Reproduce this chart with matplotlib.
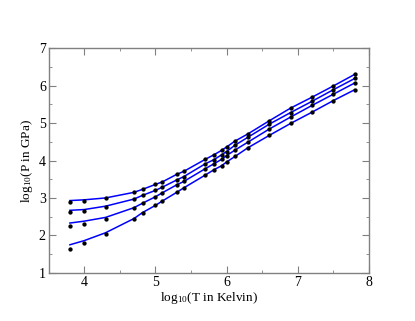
import matplotlib
matplotlib.use("Agg")
import matplotlib.pyplot as plt
from matplotlib.ticker import MultipleLocator

plt.rcParams['font.family'] = ['Liberation Serif', 'DejaVu Serif']
plt.rcParams['mathtext.fontset'] = 'custom'
plt.rcParams['mathtext.rm'] = 'Liberation Serif'
plt.rcParams['mathtext.it'] = 'Liberation Serif:italic'

# log10(T) grid shared by all isochores
logT = [3.8, 4.0, 4.3, 4.7, 4.82, 5.0, 5.1, 5.3, 5.4, 5.7,
        5.82, 5.93, 6.0, 6.12, 6.3, 6.6, 6.9, 7.2, 7.5, 7.8]

# simulation points (dots)
p_pts_1 = [2.90, 2.93, 2.99, 3.15, 3.23, 3.36, 3.43, 3.63, 3.71, 4.03,
           4.15, 4.27, 4.36, 4.52, 4.71, 5.06, 5.40, 5.69, 5.99, 6.30]
p_pts_2 = [2.63, 2.66, 2.77, 2.97, 3.07, 3.20, 3.29, 3.48, 3.57, 3.91,
           4.02, 4.15, 4.24, 4.41, 4.62, 4.97, 5.28, 5.58, 5.89, 6.19]
p_pts_3 = [2.25, 2.30, 2.45, 2.74, 2.86, 3.03, 3.14, 3.35, 3.44, 3.78,
           3.91, 4.03, 4.13, 4.28, 4.49, 4.84, 5.16, 5.47, 5.77, 6.07]
p_pts_4 = [1.65, 1.79, 2.05, 2.45, 2.61, 2.80, 2.92, 3.15, 3.27, 3.61,
           3.75, 3.86, 3.96, 4.11, 4.34, 4.67, 4.99, 5.29, 5.60, 5.89]

# fitted curves (blue lines), differ from dots only at low T
p_fit_1 = [2.93, 2.95, 3.00] + p_pts_1[3:]
p_fit_2 = [2.67, 2.69, 2.78] + p_pts_2[3:]
p_fit_3 = [2.33, 2.38, 2.48] + p_pts_3[3:]
p_fit_4 = [1.75, 1.86, 2.07] + p_pts_4[3:]

fig = plt.figure(figsize=(4.15, 3.21), dpi=100)
ax = fig.add_axes([0.117, 0.150, 0.772, 0.700])

for fit, pts in [(p_fit_1, p_pts_1), (p_fit_2, p_pts_2),
                 (p_fit_3, p_pts_3), (p_fit_4, p_pts_4)]:
    ax.plot(logT, fit, color='#0000ff', lw=1.1, zorder=2)
    ax.plot(logT, pts, 'o', color='black', ms=2.1, zorder=3)

ax.set_xlim(3.5, 8)
ax.set_ylim(1, 7)
ax.xaxis.set_major_locator(MultipleLocator(1))
ax.xaxis.set_minor_locator(MultipleLocator(0.5))
ax.yaxis.set_major_locator(MultipleLocator(1))
ax.yaxis.set_minor_locator(MultipleLocator(0.5))
ax.tick_params(which='both', direction='in', top=True, right=True,
               color='#808080', labelsize=10, pad=2)
ax.tick_params(which='major', length=5)
ax.tick_params(which='minor', length=2.5)
for s in ax.spines.values():
    s.set_color('#808080')
    s.set_linewidth(1.0)

ax.set_xlabel(r'log$_{10}$(T in Kelvin)', fontsize=9.5, labelpad=1)
ax.set_ylabel(r'log$_{10}$(P in GPa)', fontsize=9.5, labelpad=3)

fig.savefig('out.png', dpi=100)
